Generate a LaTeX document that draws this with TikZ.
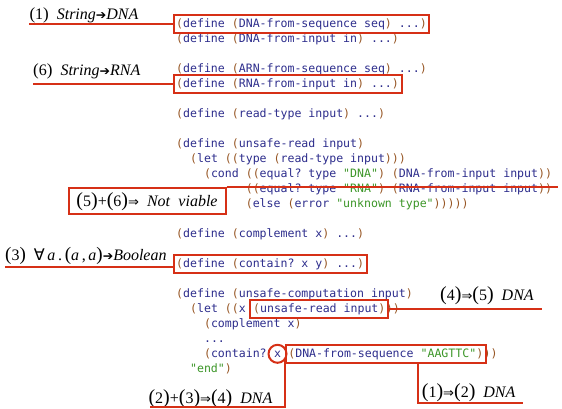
\documentclass[tikz,border=0pt]{standalone}
\usepackage{fontspec}
\setmainfont{Liberation Serif}
\setmonofont{DejaVu Sans Mono}
\newfontfamily\symfont{DejaVu Sans}
\usetikzlibrary{positioning,fit}

\definecolor{hl}{RGB}{214,48,22}
\definecolor{ident}{RGB}{45,45,140}
\definecolor{paren}{RGB}{150,85,35}
\definecolor{strg}{RGB}{60,150,40}

\newcommand\lP{{\color{paren}(}}
\newcommand\rP{{\color{paren})}}
\newcommand\qs[1]{{\color{strg}"#1"}}
\newcommand\sarr{{\symfont\fontsize{12.5}{12.5}\selectfont ➔}}
\newcommand\dimp{{\symfont\fontsize{13}{13}\selectfont ⇒}}
\newcommand\fall{{\symfont ∀}}
\newcommand\nb[2][20]{{\fontsize{#1}{#1}\selectfont(}#2{\fontsize{#1}{#1}\selectfont)}}

\begin{document}
\begin{tikzpicture}[x=1pt,y=-1pt,
    code/.style = {font=\ttfamily\fontsize{11.56}{15}\selectfont, text=ident,
                   inner sep=0pt, anchor=west, text height=11pt, text depth=4pt},
    hlbox/.style = {draw=hl, line width=2pt, inner xsep=2.5pt, inner ysep=1.5pt},
    hlline/.style = {draw=hl, line width=2pt},
    lab/.style = {font=\fontsize{16}{16}\selectfont, inner sep=0pt, anchor=base west}]
\useasboundingbox (0,0) rectangle (562,409);

% code
\node[code] (l0) at (176,23.8) {\lP define \lP DNA-from-sequence seq\rP{} ...\rP};
\node[code] (l1) at (176,38.8) {\lP define \lP DNA-from-input in\rP{} ...\rP};
\node[code] (l3) at (176,68.8) {\lP define \lP ARN-from-sequence seq\rP{} ...\rP};
\node[code] (l4) at (176,83.8) {\lP define \lP RNA-from-input in\rP{} ...\rP};
\node[code] (l6) at (176,113.8) {\lP define \lP read-type input\rP{} ...\rP};
\node[code] (l8) at (176,143.8) {\lP define \lP unsafe-read input\rP};
\node[code] (l9) at (189.92,158.8) {\lP let \lP\lP type \lP read-type input\rP\rP\rP};
\node[code] (l10) at (203.84,173.8) {\lP cond \lP\lP equal? type \qs{DNA}\rP{} \lP DNA-from-input input\rP\rP};
\node[code] (l11) at (245.6,188.8) {\lP\lP equal? type \qs{RNA}\rP{} \lP RNA-from-input input\rP\rP};
\node[code] (l12) at (245.6,203.8) {\lP else \lP error \qs{unknown type}\rP\rP\rP\rP\rP};
\node[code] (l14) at (176,233.8) {\lP define \lP complement x\rP{} ...\rP};
\node[code] (l16) at (176,263.8) {\lP define \lP contain? x y\rP{} ...\rP};
\node[code] (l18) at (176,293.8) {\lP define \lP unsafe-computation input\rP};
\node[code] (l19a) at (189.92,308.8) {\lP let \lP\lP x};
\node[code] (l19b) [right=6.96pt of l19a] {\lP unsafe-read input\rP};
\node[code] (l19c) [right=0pt of l19b] {\rP\rP};
\node[code] (l20) at (203.84,323.8) {\lP complement x\rP};
\node[code] (l21) at (203.84,338.8) {...};
\node[code] (l22a) at (203.84,353.8) {\lP contain?};
\node[code] (x22) [right=6.96pt of l22a] {x};
\node[code] (l22b) [right=6.96pt of x22] {\lP DNA-from-sequence \qs{AAGTTC}\rP};
\node[code] (l22c) [right=0pt of l22b] {\rP\rP};
\node[code] (l23) at (189.92,368.8) {\qs{end}\rP};

% highlights
\node[hlbox, fit=(l0)] (b0) {};
\node[hlbox, fit=(l4)] (b4) {};
\node[hlbox, fit=(l16)] (b16) {};
\node[hlbox, fit=(l19b)] (b19) {};
\node[hlbox, fit=(l22b)] (b22) {};
\node[draw=hl, line width=2pt, circle, minimum size=18pt, inner sep=0pt] (xc) at (x22) {};

% labels
\node[lab] (lab1) at (29.3,19.3) {\nb[17]{1}\hspace{8pt}\textit{String}\sarr\textit{DNA}};
\node[lab] (lab6) at (33,76) {\nb[17]{6}\hspace{8pt}\textit{String}\sarr\textit{RNA}};
\node[lab] (lab3) at (5,260) {\nb[19]{3}\hspace{8pt}\fall\,\textit{a}\,.\,\nb[19]{\textit{a}\,,\,\textit{a}}\sarr\textit{Boolean}};
\node[draw=hl, line width=2pt, font=\fontsize{16}{16}\selectfont, minimum width=157pt,
      minimum height=25.7pt, inner sep=0pt] (nv) at (147,201.2)
      {\nb{5}+\nb{6}\dimp\hspace{8pt}\textit{Not}\hspace{8pt}\textit{viable}};
\node[lab] (lab45) at (440,300.7) {\nb{4}\dimp\nb{5}\hspace{8pt}\textit{DNA}};
\node[lab] (lab234) at (148.3,403) {\nb{2}+\nb{3}\dimp\nb{4}\hspace{8pt}\textit{DNA}};
\node[lab] (lab12) at (421.7,397.3) {\nb{1}\dimp\nb{2}\hspace{8pt}\textit{DNA}};

\coordinate (se) at (558,189);
\coordinate (e45) at (542,307);
\coordinate (u234) at (150,407.3);
\coordinate (c12) at (418,403);
\coordinate (e12) at (523,403);

% connectors
\draw[hlline] (b0.west) -- (b0.west -| lab1.west);
\draw[hlline] (b4.west) -- (b4.west -| lab6.west);
\draw[hlline] ([yshift=-3pt]b16.west) -- ([yshift=-3pt]b16.west -| lab3.west);
\draw[hlline] (nv.north east) -- (nv.north east -| se);
\draw[hlline] (b19.east) -- (b19.east -| e45);
\draw[hlline] (xc.-41) |- (u234);
\draw[hlline] (b22.south -| c12) |- (e12);
\end{tikzpicture}
\end{document}
